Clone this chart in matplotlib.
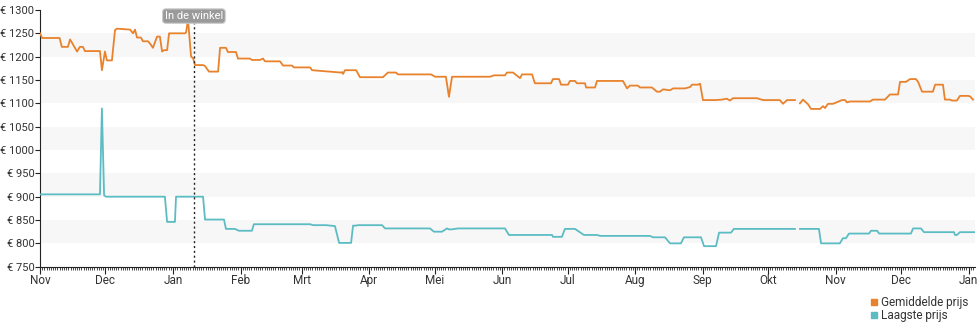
import numpy as np
import pandas as pd
import matplotlib
matplotlib.use("Agg")
import matplotlib.pyplot as plt
import matplotlib.dates as mdates
from matplotlib.lines import Line2D

plt.rcParams['font.family'] = ['Roboto', 'DejaVu Sans']

start = pd.Timestamp('2022-11-01')
winkel_dag = 70.6

# gemiddelde prijs: (dag sinds 1 nov, prijs)
gem_dagen = [0, 1, 9, 10, 12.8, 13.8, 17, 18.3, 19.7, 20.6, 27.5, 28.4, 29.8, 30.7, 33,
             34.4, 35.3, 41.3, 42.7, 43.6, 44.5, 46.3, 47.2, 49.5, 50.5, 51.8, 53.7, 55,
             56, 56.9, 58.3, 59.2, 66.5, 67, 67.9, 69.3, 70.2, 71.1, 74.8, 75.7, 77.5,
             81.7, 82.6, 85.3, 86.2, 89.9, 90.8, 96.3, 97.2, 100.9, 102.3, 103.2, 110.1,
             111.5, 115.6, 116.5, 123.9, 124.8, 133, 138, 138.5, 139, 139.9, 145, 146.8,
             157.3, 159.6, 163.3, 164.2, 179.4, 181.2, 186.2, 187.6, 189, 206.4, 208.3,
             213.3, 214.2, 217, 220.2, 221.1, 225.7, 227, 234.4, 235.3, 238.1, 239, 242.2,
             243.1, 245.4, 246.3, 250, 250.5, 254.6, 255.5, 267.4, 269.3, 270.6, 274.3,
             275.2, 280.7, 283, 284.4, 285.8, 289, 290.4, 295.9, 298.2, 299.1, 301.8,
             302.8, 304.1, 309.6, 312.8, 315.1, 316.5, 317.9, 328.9, 331.7, 339.4, 340.8,
             342.7, 346.3, 347.4, 348.6, 350, 352.3, 353.7, 357.8, 359.2, 360.1, 361.5,
             363.8, 367.9, 369.3, 370.2, 371.6, 380.7, 382.1, 387.6, 389.9, 393.6, 394.5,
             397.2, 399.1, 401.8, 402.8, 404.6, 409.6, 410.6, 414.2, 415.1, 417.4, 418.3,
             420.6, 422, 425.7, 426.6, 428]
gem_prijs = [1250, 1240, 1240, 1221, 1221, 1237, 1211, 1221, 1221, 1212, 1212, 1171, 1211,
             1192, 1192, 1257, 1260, 1258, 1250, 1258, 1241, 1241, 1233, 1233, 1228, 1219,
             1243, 1243, 1211, 1214, 1214, 1250, 1250, 1252, 1279, 1200, 1197, 1182, 1182,
             1180, 1168, 1168, 1219, 1219, 1210, 1210, 1196, 1196, 1193, 1193, 1196, 1190,
             1190, 1181, 1181, 1177, 1177, 1171, 1168, 1166, 1167, 1163, 1171, 1171, 1156,
             1156, 1166, 1166, 1162, 1162, 1157, 1157, 1114, 1157, 1157, 1160, 1160, 1166,
             1166, 1154, 1162, 1162, 1143, 1143, 1152, 1152, 1140, 1140, 1148, 1148, 1143,
             1143, 1134, 1134, 1148, 1148, 1132, 1138, 1138, 1134, 1134, 1125, 1125, 1130,
             1128, 1132, 1132, 1135, 1140, 1140, 1142, 1107, 1107, 1108, 1110, 1106, 1111,
             1111, 1107, 1107, 1099, 1107, 1107, np.nan, 1100, 1108, 1098, 1088, 1088, 1094,
             1090, 1099, 1099, 1107, 1107, 1102, 1104, 1104, 1108, 1108, 1119, 1119, 1146,
             1146, 1152, 1152, 1146, 1125, 1125, 1140, 1140, 1108, 1108, 1106, 1106, 1116,
             1116, 1115, 1108]

# laagste prijs
laag_dagen = [0, 27.5, 28.4, 29.4, 30.3, 57.3, 58.3, 61.9, 62.4, 74.8, 75.7, 84.4, 85.3,
              89.4, 91.3, 97.2, 98.1, 123.9, 125.2, 131.2, 135.3, 137.2, 142.7, 143.6,
              144.9, 145.9, 156.9, 158.3, 178.9, 180.7, 184.4, 186.7, 187.6, 189, 191.7,
              213.3, 215.1, 234.9, 235.3, 239.4, 240.8, 245.4, 249.5, 255.5, 256.9, 279.8,
              281.2, 286.7, 289, 294, 295.4, 303.2, 304.6, 310.1, 311.5, 317, 318.3, 346.3,
              347.4, 348.6, 357.3, 358.3, 366.9, 368.3, 369.7, 371.1, 380.3, 381.2, 384,
              384.9, 399.5, 400.5, 404.1, 405.5, 419.3, 419.7, 420.6, 422, 428.9]
laag_prijs = [905, 905, 1089, 903, 900, 900, 846, 846, 900, 900, 851, 851, 831, 831, 827,
              827, 841, 841, 839, 839, 837, 801, 801, 838, 838, 839, 839, 832, 832, 825,
              825, 832, 830, 830, 832, 832, 818, 818, 814, 814, 831, 831, 818, 818, 816,
              816, 813, 813, 800, 800, 813, 813, 794, 794, 823, 823, 831, 831, np.nan, 831,
              831, 800, 800, 811, 811, 821, 821, 827, 827, 821, 821, 832, 832, 824, 824,
              818, 818, 824, 824]

maanden = {1: 'Jan', 2: 'Feb', 3: 'Mrt', 4: 'Apr', 5: 'Mei', 6: 'Jun', 7: 'Jul',
           8: 'Aug', 9: 'Sep', 10: 'Okt', 11: 'Nov', 12: 'Dec'}

oranje = '#e8822d'
teal = '#5cbcc4'

gem_x = start + pd.to_timedelta(gem_dagen, unit='D')
laag_x = start + pd.to_timedelta(laag_dagen, unit='D')

fig = plt.figure(figsize=(9.8, 3.25), dpi=100)
ax = fig.add_axes([40/980, 1 - 266.7/325, 935/980, 256.7/325])

for lo in range(800, 1300, 100):
    ax.axhspan(lo, lo + 50, color='#f7f7f7', zorder=0, lw=0)

ax.plot(gem_x, gem_prijs, color=oranje, lw=1.3, zorder=3)
ax.plot(laag_x, laag_prijs, color=teal, lw=1.3, zorder=3)

winkel = start + pd.Timedelta(days=winkel_dag)
ax.axvline(winkel, ymin=0, ymax=0.975, color='#222222', ls=(0, (1.5, 2)), lw=1, zorder=4)
ax.text(winkel, 1287, 'In de winkel', ha='center', va='center', color='white', fontsize=8,
        bbox=dict(boxstyle='round,pad=0.2,rounding_size=0.3', fc='#9a9a9a', ec='#cccccc', lw=0.8),
        zorder=5)

ax.set_ylim(750, 1300)
ax.set_xlim(start, start + pd.Timedelta(days=428.9))
ax.set_yticks(range(750, 1301, 50))
ax.set_yticklabels([f'€ {v}' for v in range(750, 1301, 50)])

ax.xaxis.set_major_locator(mdates.MonthLocator())
ax.xaxis.set_major_formatter(plt.FuncFormatter(lambda v, p: maanden[mdates.num2date(v).month]))
ax.xaxis.set_minor_locator(mdates.DayLocator())

ax.tick_params(axis='both', colors='#222222', labelcolor='#333333')
ax.tick_params(axis='x', which='major', length=5, width=0.8, pad=0, labelsize=8.5)
ax.tick_params(axis='x', which='minor', length=2, width=0.5)
ax.tick_params(axis='y', length=3.5, width=0.8, pad=0.5, labelsize=8)

for s in ['top', 'right']:
    ax.spines[s].set_visible(False)
for s in ['left', 'bottom']:
    ax.spines[s].set_color('#222222')
    ax.spines[s].set_linewidth(0.8)

handles = [Line2D([], [], marker='s', ls='', color=oranje, markersize=5),
           Line2D([], [], marker='s', ls='', color=teal, markersize=5)]
fig.legend(handles, ['Gemiddelde prijs', 'Laagste prijs'], loc='upper right',
           bbox_to_anchor=(974/980, 1 - 290/325), frameon=False, fontsize=8.5,
           handlelength=0.6, handletextpad=0.3, labelspacing=0.05, borderpad=0,
           labelcolor='#333333', alignment='left')

fig.savefig('out.png', dpi=100)
